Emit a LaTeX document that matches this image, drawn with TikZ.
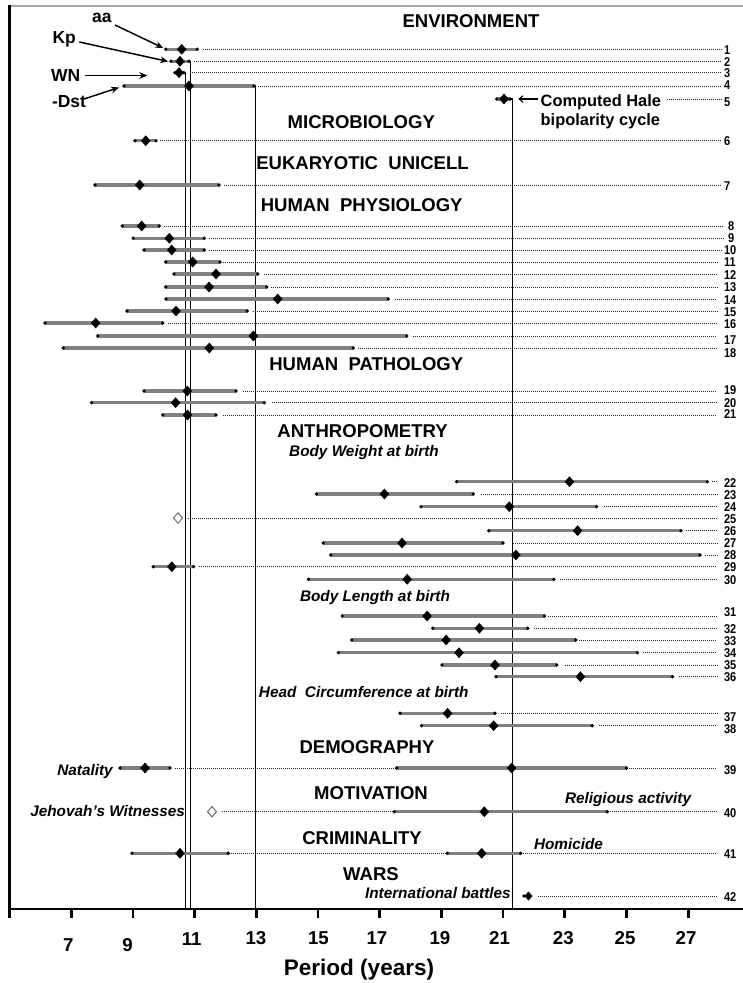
\documentclass[tikz,border=0pt]{standalone}
\usepackage{fontspec}
\setmainfont{Liberation Sans}
\newfontfamily\narrowfont[FakeStretch=0.86]{Liberation Sans}
\usetikzlibrary{arrows.meta}
\tikzset{
  ebar/.style={draw=gray, line width=2.5pt},
  dotl/.style={draw=black!85, line width=0.75pt, dash pattern=on 0.75pt off 0.75pt},
  vline/.style={draw=black, line width=0.95pt},
  arr/.style={draw=black, line width=1.1pt, -{Stealth[length=6pt,width=5pt]}},
  halearr/.style={draw=black, line width=0.8pt, -{Straight Barb[length=3pt,width=5pt]}},
  txt/.style={inner sep=0pt, outer sep=0pt, text depth=0pt},
  head/.style={txt, font=\fontsize{13.9}{16}\selectfont\bfseries, text height=9.95pt},
  ital/.style={txt, font=\fontsize{11.5}{14}\selectfont\bfseries\itshape, text height=8.2pt},
  rlab/.style={txt, anchor=west, font=\narrowfont\fontsize{9.6}{11}\selectfont\bfseries, text height=6.9pt},
  tlab/.style={txt, font=\fontsize{14}{16}\selectfont\bfseries, text height=10pt},
  mlab/.style={txt, font=\fontsize{13.1}{15}\selectfont\bfseries, text height=9.4pt},
  halelab/.style={txt, anchor=west, font=\fontsize{12.3}{14}\selectfont\bfseries, text height=8.8pt},
  opendia/.style={draw=gray!80!black, line width=0.7pt, fill=white},
}
% y, left, mid, right, dot start, dot end, label x, label y, label
\newcommand{\drow}[9]{%
  \draw[dotl] (#5,#1) -- (#6,#1);
  \draw[ebar] (#2,#1) -- (#4,#1);
  \fill (#2,#1) circle[radius=1.4pt] (#4,#1) circle[radius=1.4pt];
  \fill (#3,#1) ++(-4.8,0) -- ++(4.8,-5.4) -- ++(4.8,5.4) -- ++(-4.8,5.4) -- cycle;
  \node[rlab] (r#9) at (#7,#8) {#9};
}
\newcommand{\ebarm}[4]{% y, left, mid, right
  \draw[ebar] (#2,#1) -- (#4,#1);
  \fill (#2,#1) circle[radius=1.4pt] (#4,#1) circle[radius=1.4pt];
  \fill (#3,#1) ++(-4.8,0) -- ++(4.8,-5.4) -- ++(4.8,5.4) -- ++(-4.8,5.4) -- cycle;
}
\begin{document}
\begin{tikzpicture}[x=0.75pt,y=-0.75pt]
\fill[white] (0,0) rectangle (743,983);
\useasboundingbox (0,0) rectangle (743,983);

% frame
\draw[gray!70, line width=1pt] (9.5,6) -- (743,6);
\draw[black, line width=2.2pt] (9.5,5) -- (9.5,909);
\draw[black, line width=2.2pt] (8,909) -- (743,909);
\foreach \k in {0,...,11} {
  \draw[black, line width=2pt] (9.5+61.7*\k,909) -- (9.5+61.7*\k,918);
}

% vertical reference lines
\draw[vline] (185.7,72.7) -- (185.7,909);
\draw[vline] (190.7,61.3) -- (190.7,909);
\draw[vline] (254.5,86) -- (255.3,86) -- (255.3,909);
\draw[vline] (510,99) -- (512.7,99) -- (512.7,909);

% headings
\node[head] (hEnv) at (471,21) {ENVIRONMENT};
\node[head] (hMic) at (361.3,122) {MICROBIOLOGY};
\node[head] (hEuk) at (362.5,162.5) {EUKARYOTIC\ \ UNICELL};
\node[head] (hPhy) at (361.7,204.5) {HUMAN\ \ PHYSIOLOGY};
\node[head] (hPat) at (366.3,363.5) {HUMAN\ \ PATHOLOGY};
\node[head] (hAnt) at (362.6,431) {ANTHROPOMETRY};
\node[head] (hDem) at (367,747) {DEMOGRAPHY};
\node[head] (hMot) at (371,793) {MOTIVATION};
\node[head] (hCri) at (362,837.5) {CRIMINALITY};
\node[head] (hWar) at (371,873.5) {WARS};

% italic sub labels
\node[ital] (sBW) at (364,451) {Body Weight at birth};
\node[ital] (sBL) at (375,596) {Body Length at birth};
\node[ital] (sHC) at (363.8,692) {Head\ \ Circumference at birth};
\node[ital, anchor=east] (sNat) at (112.7,770) {Natality};
\node[ital, anchor=east] (sJW) at (185,811) {Jehovah's Witnesses};
\node[ital, anchor=west] (sRel) at (565,798) {Religious activity};
\node[ital, anchor=west] (sHom) at (534,844) {Homicide};
\node[ital, anchor=east] (sInt) at (510.7,893.5) {International battles};

% environment markers
\node[mlab] (laa) at (101.8,16.6) {aa};
\node[mlab] (lKp) at (64.2,37) {Kp};
\node[mlab] (lWN) at (65.8,75.5) {WN};
\node[mlab] (lDst) at (69,101) {-Dst};
\coordinate (aaS) at (115,25);   \coordinate (aaT) at (163.3,48);
\coordinate (kpS) at (79.3,42);  \coordinate (kpT) at (168.3,61.5);
\coordinate (wnS) at (85,75.5);  \coordinate (wnT) at (147.3,75.5);
\coordinate (dsS) at (84,99);    \coordinate (dsT) at (119,87.5);
\draw[arr] (aaS) -- (aaT);
\draw[arr] (kpS) -- (kpT);
\draw[arr] (wnS) -- (wnT);
\draw[arr] (dsS) -- (dsT);

% rows
\drow{49.3}{165.7}{181.7}{197.3}{203}{722}{724}{50.3}{1}
\drow{61.3}{171}{180}{189}{194}{722}{724}{61.5}{2}
\drow{72.7}{175}{179}{184}{190}{722}{724}{72.7}{3}
\drow{86}{124}{189}{254}{258}{722}{724}{84.5}{4}

% row 5
\draw[dotl] (666.7,99) -- (722,99);
\ebarm{99}{496.7}{504}{510}
\node[rlab] (r5) at (724,101.7) {5};
\node[halelab] (hale1) at (540.7,101) {Computed Hale};
\node[halelab] (hale2) at (540.7,120) {bipolarity cycle};
\coordinate (haleS) at (538,99); \coordinate (haleT) at (518.3,99);
\draw[halearr] (haleS) -- (haleT);

\drow{140.7}{135}{145.7}{156}{160}{722}{724}{141}{6}
\drow{185}{95}{139.7}{219}{224}{722}{724}{185.5}{7}
\drow{226}{122.3}{141.7}{159.3}{164.3}{724}{728}{226}{8}
\drow{238.3}{133.3}{169.3}{204.3}{209.3}{724}{728}{238}{9}
\drow{250}{144}{171.7}{204.3}{209.3}{722}{724}{250.3}{10}
\drow{262}{165.7}{192.7}{220}{222.7}{717}{724}{262.3}{11}
\drow{274}{174}{216}{257.7}{264.3}{717}{724}{274.5}{12}
\drow{287}{165.7}{209}{266.7}{270.7}{717}{724}{287}{13}
\drow{299}{166}{277.7}{388.3}{395}{717}{724}{299.5}{14}
\drow{311}{127}{176}{247.3}{252.7}{717}{724}{311.5}{15}
\drow{323}{45}{95.7}{162.7}{168.3}{717}{724}{323.5}{16}
\drow{336}{97.7}{253.3}{406.7}{413.3}{717}{724}{340}{17}
\drow{348}{63.3}{209.3}{353.3}{358.3}{717}{724}{352.5}{18}
\drow{391}{144}{187.3}{236}{243.3}{717}{724}{390}{19}
\drow{402.7}{91.6}{175.6}{264.4}{271.5}{717}{724}{402.5}{20}
\drow{415}{162.8}{187.5}{216}{223}{717}{724}{414.3}{21}
\drow{481.7}{456.6}{569.5}{707.2}{712}{717}{724}{482.5}{22}
\drow{494}{316.6}{384.4}{473.2}{480.8}{717}{724}{494.7}{23}
\drow{506.7}{421}{509.3}{596.6}{603.7}{717}{724}{507.3}{24}
% row 25
\draw[dotl] (187.5,518) -- (717,518);
\draw[opendia] (178,518) ++(-4.5,0) -- ++(4.5,-5.2) -- ++(4.5,5.2) -- ++(-4.5,5.2) -- cycle;
\node[rlab] (r25) at (724,518.7) {25};
\drow{530.7}{488.8}{577.6}{681}{685.8}{717}{724}{531}{26}
\drow{543}{323.2}{402}{503.1}{512.6}{717}{724}{543}{27}
\drow{555}{330.8}{515.9}{700}{704.8}{717}{724}{555.2}{28}
\drow{566.7}{153.3}{171.8}{193.6}{199.3}{717}{724}{567.3}{29}
\drow{579.3}{308.5}{407.2}{553.9}{560}{717}{724}{580}{30}
\drow{616}{342.2}{427.1}{544.4}{548.2}{717}{724}{611.5}{31}
\drow{628.3}{432.8}{479.4}{527.8}{534}{717}{724}{628.5}{32}
\drow{640}{351.7}{446.1}{575.7}{579}{717}{724}{640.7}{33}
\drow{652.7}{338.4}{459}{637.4}{643}{717}{724}{652.9}{34}
\drow{665}{441.9}{495}{556.7}{564.8}{717}{724}{665}{35}
\drow{676.7}{496}{580.4}{672.5}{678.7}{717}{724}{677.2}{36}
\drow{713.3}{400}{447.6}{495}{500.7}{717}{724}{716.5}{37}
\drow{725.7}{421.5}{493.6}{592.3}{599}{717}{724}{728.5}{38}

% row 39
\ebarm{768}{120}{145}{170}
\draw[ebar] (396.8,768) -- (626.5,768);
\draw[dotl] (175,768) -- (717,768);
\ebarm{768}{396.8}{511.6}{626.5}
\node[rlab] (r39) at (724,770) {39};

% row 40
\draw[ebar] (394.3,811.7) -- (607.3,811.7);
\draw[dotl] (222,811.7) -- (717,811.7);
\draw[opendia] (212,811.7) ++(-4.5,0) -- ++(4.5,-5.2) -- ++(4.5,5.2) -- ++(-4.5,5.2) -- cycle;
\ebarm{811.7}{394.3}{484.3}{607.3}
\node[rlab] (r40) at (724,812.5) {40};

% row 41
\draw[ebar] (132,853.3) -- (228.3,853.3);
\draw[ebar] (447.3,853.3) -- (520.7,853.3);
\draw[dotl] (217,853.3) -- (717,853.3);
\ebarm{853.3}{132}{180}{228.3}
\ebarm{853.3}{447.3}{481.7}{520.7}
\node[rlab] (r41) at (724,854) {41};

% row 42
\draw[dotl] (538.3,896) -- (717,896);
\draw[ebar, line width=1.5pt] (524,896) -- (531.7,896);
\fill (524,896) circle[radius=1.4pt];
\fill (528.5,896) ++(-4,0) -- ++(4,-4.5) -- ++(4,4.5) -- ++(-4,4.5) -- cycle;
\node[rlab] (r42) at (724,896.5) {42};

% tick labels
\node[tlab] (t7) at (68.3,945) {7};
\node[tlab] (t9) at (127.5,945) {9};
\node[tlab] (t11) at (191.7,939) {11};
\node[tlab] (t13) at (256,938.3) {13};
\node[tlab] (t15) at (318.5,938.3) {15};
\node[tlab] (t17) at (377,938.3) {17};
\node[tlab] (t19) at (440,938.3) {19};
\node[tlab] (t21) at (499.5,938.3) {21};
\node[tlab] (t23) at (563.3,938.3) {23};
\node[tlab] (t25) at (625,938.3) {25};
\node[tlab] (t27) at (686,938.3) {27};
\node[txt, font=\fontsize{16.9}{19}\selectfont\bfseries, text height=12.1pt] (xlab) at (359,967) {Period (years)};
\end{tikzpicture}
\end{document}
